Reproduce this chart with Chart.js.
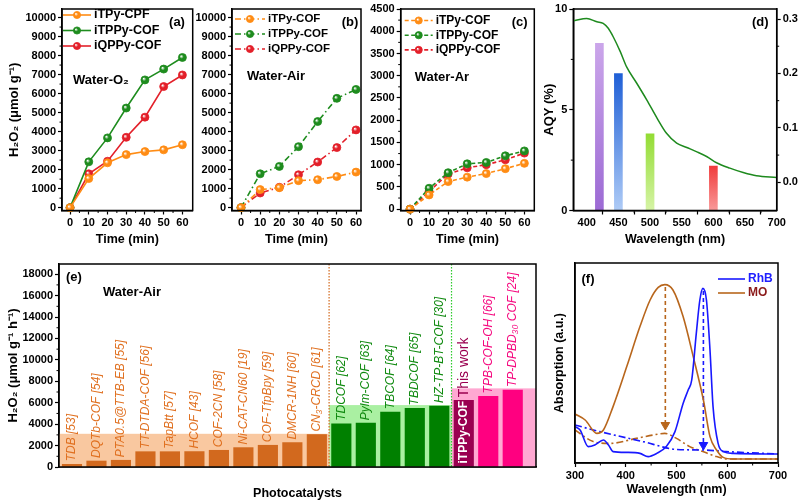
<!DOCTYPE html>
<html>
<head>
<meta charset="utf-8">
<script src="https://cdn.jsdelivr.net/npm/chart.js@4.4.1/dist/chart.umd.min.js"></script>
<style>
  html, body { margin: 0; padding: 0; background: #fff; }
  body { position: relative; width: 800px; height: 502px; overflow: hidden; }
  canvas { position: absolute; }
</style>
</head>
<body>
<canvas id="pa" width="198" height="250" style="left:0;top:0"></canvas>
<canvas id="pb" width="172" height="250" style="left:194px;top:0"></canvas>
<canvas id="pc" width="176" height="250" style="left:364px;top:0"></canvas>
<canvas id="pd" width="282" height="250" style="left:538px;top:0"></canvas>
<canvas id="pe" width="547" height="252" style="left:0;top:250px"></canvas>
<canvas id="pf" width="257" height="252" style="left:543px;top:250px"></canvas>
<script>
// ---- data: (a)-(c) H2O2 production vs time ----
var time = [0, 10, 20, 30, 40, 50, 60];
var legendA = ['iTPy-CPF', 'iTPPy-COF', 'iQPPy-COF'];
var legendBC = ['iTPy-COF', 'iTPPy-COF', 'iQPPy-COF'];
var o2_iTPy = [0, 1530, 2360, 2790, 2950, 3040, 3310];
var o2_iTPPy = [0, 2410, 3670, 5240, 6720, 7290, 7900];
var o2_iQPPy = [0, 1780, 2440, 3700, 4760, 6370, 6980];
var air_iTPy = [0, 950, 1050, 1420, 1470, 1640, 1870];
var air_iTPPy = [0, 1780, 2170, 3210, 4530, 5750, 6220];
var air_iQPPy = [0, 770, 1070, 1730, 2400, 3160, 4090];
var ar_iTPy = [0, 320, 620, 720, 800, 910, 1030];
var ar_iTPPy = [0, 470, 820, 1020, 1050, 1200, 1310];
var ar_iQPPy = [0, 400, 790, 930, 1000, 1110, 1260];
var timeTicks = [0, 10, 20, 30, 40, 50, 60];
var h2o2Ticks = [0, 1000, 2000, 3000, 4000, 5000, 6000, 7000, 8000, 9000, 10000];
var arTicks = [0, 500, 1000, 1500, 2000, 2500, 3000, 3500, 4000, 4500];

// ---- data: (d) AQY + absorption ----
var aqyWavelength = [420, 450, 500, 600];
var aqyValue = [8.3, 6.8, 3.8, 2.2];
var absWavelength = [380, 400, 416, 426, 434, 442, 453, 463, 479, 495, 511, 526, 542, 558, 574, 590, 605, 626, 647, 668, 700];
var absValue = [0.297, 0.301, 0.295, 0.292, 0.283, 0.267, 0.240, 0.212, 0.182, 0.151, 0.118, 0.090, 0.072, 0.064, 0.056, 0.047, 0.036, 0.026, 0.018, 0.012, 0.009];
var wlTicks = [400, 450, 500, 550, 600, 650, 700];
var aqyTicks = [0, 5, 10];
var absTicks = [0, 0.1, 0.2, 0.3];

// ---- data: (e) comparison ----
var catalysts = ['TDB [53]', 'DQTb-COF [54]', 'PTA0.5@TTB-EB [55]', 'TT-DTDA-COF [56]', 'TapBtt [57]', 'HCOF [43]',
  'COF-2CN [58]', 'Ni-CAT-CN60 [19]', 'COF-TfpBpy [59]', 'DMCR-1NH [60]', 'CN\u2083-CRCD [61]',
  'TDCOF [62]', 'Pylm-COF [63]', 'TBCOF [64]', 'TBDCOF [65]', 'HZ-TP-BT-COF [30]',
  'iTPPy-COF', 'TPB-COF-OH [66]', 'TP-DPBD\u2083\u2080 COF [24]'];
var rates = [250, 560, 630, 1430, 1430, 1440, 1560, 1810, 2030, 2280, 3030, 4030, 4090, 5120, 5470, 5690, 6220, 6590, 7190];
var groupOf = [0, 0, 0, 0, 0, 0, 0, 0, 0, 0, 0, 1, 1, 1, 1, 1, 2, 2, 2];
var groupTop = [3100, 5780, 7340];
var rateTicks = [0, 2000, 4000, 6000, 8000, 10000, 12000, 14000, 16000, 18000];

// ---- data: (f) dye absorption ----
var rhbWl = [300, 310, 326, 339, 356, 366, 375, 402, 428, 444, 461, 480, 497, 513, 523, 530, 539, 546, 552, 559, 566, 572, 582, 592, 612, 700];
var rhbAbs = [0.182, 0.165, 0.082, 0.090, 0.115, 0.090, 0.057, 0.053, 0.048, 0.032, 0.048, 0.082, 0.157, 0.298, 0.365, 0.415, 0.648, 0.815, 0.873, 0.815, 0.565, 0.282, 0.098, 0.057, 0.048, 0.045];
var moWl = [300, 320, 343, 356, 375, 402, 428, 448, 464, 477, 493, 513, 533, 553, 566, 579, 592, 612, 700];
var moAbs = [0.245, 0.215, 0.148, 0.165, 0.282, 0.482, 0.682, 0.815, 0.878, 0.892, 0.865, 0.732, 0.532, 0.315, 0.132, 0.065, 0.028, 0.020, 0.020];
var rhbAfterWl = [300, 349, 434, 500, 552, 598, 700];
var rhbAfterAbs = [0.190, 0.157, 0.107, 0.068, 0.065, 0.057, 0.045];
var moAfterWl = [300, 336, 369, 421, 454, 477, 500, 526, 552, 579, 598, 700];
var moAfterAbs = [0.165, 0.107, 0.098, 0.123, 0.140, 0.148, 0.123, 0.082, 0.057, 0.032, 0.020, 0.020];
var arrowWl = [478, 553];
var arrowFrom = [0.88, 0.86];
var arrowTo = [0.19, 0.09];
var fTicks = [300, 400, 500, 600, 700];

// ---------------------------------------------------------------
Chart.defaults.font.family = 'Arial, "Liberation Sans", sans-serif';
Chart.defaults.color = '#000';

var ORANGE = '#FF8C14', GREEN = '#1E8C1E', RED = '#E3202A';

function sphere(color) {
  return function (ctx) {
    var ch = ctx.chart;
    if (ctx.type !== 'data' || !ch.chartArea || !ctx.parsed) return color;
    var x = ch.scales.x.getPixelForValue(ctx.parsed.x), y = ch.scales.y.getPixelForValue(ctx.parsed.y);
    var g = ch.ctx.createRadialGradient(x - 1.3, y - 1.3, 0.2, x, y, 4.2);
    g.addColorStop(0, '#fff');
    g.addColorStop(0.45, color);
    g.addColorStop(1, color);
    return g;
  };
}

function ball(c, x, y, r, color) {
  var g = c.createRadialGradient(x - 1.2, y - 1.2, 0.2, x, y, r);
  g.addColorStop(0, '#fff'); g.addColorStop(0.45, color); g.addColorStop(1, color);
  c.beginPath(); c.arc(x, y, r, 0, Math.PI * 2);
  c.fillStyle = g; c.fill();
  c.lineWidth = 0.8; c.strokeStyle = color; c.stroke();
}

function series(label, xs, ys, color, dash) {
  return {
    label: label,
    data: xs.map(function (x, i) { return { x: x, y: ys[i] }; }),
    borderColor: color, borderWidth: 1.6, borderDash: dash,
    pointRadius: 4, pointHoverRadius: 4, pointBorderWidth: 0.8, pointBorderColor: color,
    pointBackgroundColor: sphere(color), tension: 0, clip: false
  };
}

function axis(o) {
  return {
    type: 'linear', position: o.position, min: o.min, max: o.max, offset: false,
    border: { display: true, color: '#000', width: 1.5 },
    grid: { display: !o.noTicks, drawOnChartArea: false, tickLength: 4, color: '#000', tickWidth: 1.2 },
    ticks: {
      display: !o.noTicks, font: { size: 11, weight: 'bold' }, color: '#000', padding: 2,
      maxRotation: 0, autoSkip: false,
      callback: o.fmt || function (v) { return String(v); }
    },
    afterBuildTicks: function (s) { s.ticks = (o.ticks || []).map(function (v) { return { value: v }; }); },
    afterFit: function (s) { if (o.horiz) s.height = o.size; else s.width = o.size; },
    title: {
      display: !!o.title, text: o.title || '', color: '#000',
      font: { size: o.tsize || 12.5, weight: 'bold' },
      padding: { top: o.tpad || 0, bottom: o.tpad || 0 }
    }
  };
}

// box round the plot area
var frame = {
  id: 'frame',
  afterDatasetsDraw: function (chart) {
    var a = chart.chartArea, c = chart.ctx;
    c.save(); c.strokeStyle = '#000'; c.lineWidth = 1.5;
    c.strokeRect(a.left, a.top, a.right - a.left, a.bottom - a.top);
    c.restore();
  }
};

// small ticks halfway between the labelled ones
var minor = {
  id: 'minor',
  afterDraw: function (chart, args, o) {
    var c = chart.ctx;
    (o.axes || []).forEach(function (id) {
      var s = chart.scales[id], t = s.ticks.map(function (k) { return k.value; });
      c.save(); c.strokeStyle = '#000'; c.lineWidth = 1;
      for (var i = 0; i < t.length - 1; i++) {
        var p = s.getPixelForValue((t[i] + t[i + 1]) / 2);
        c.beginPath();
        if (s.isHorizontal()) { c.moveTo(p, s.top); c.lineTo(p, s.top + 2.5); }
        else if (s.position === 'left') { c.moveTo(s.right, p); c.lineTo(s.right - 2.5, p); }
        else { c.moveTo(s.left, p); c.lineTo(s.left + 2.5, p); }
        c.stroke();
      }
      c.restore();
    });
  }
};

// panel letters and condition labels
var notes = {
  id: 'notes',
  afterDraw: function (chart, args, o) {
    var c = chart.ctx, a = chart.chartArea;
    (o.items || []).forEach(function (n) {
      c.save();
      c.font = n.font || 'bold 13px Arial';
      c.fillStyle = n.color || '#000';
      c.textBaseline = 'middle';
      c.textAlign = n.align || 'left';
      c.fillText(n.text, a.left + n.x, a.top + n.y);
      c.restore();
    });
  }
};

// legend: line sample (+ marker) then label
var keys = {
  id: 'keys',
  afterDraw: function (chart, args, o) {
    if (o.x === undefined) return;
    var c = chart.ctx, a = chart.chartArea, y = a.top + o.y, k = 0;
    chart.data.datasets.forEach(function (ds) {
      if (!ds.label) return;
      var x0 = a.left + o.x, x1 = x0 + o.len;
      c.save();
      c.strokeStyle = ds.borderColor; c.lineWidth = ds.borderWidth;
      c.setLineDash(ds.borderDash || []);
      c.beginPath(); c.moveTo(x0, y); c.lineTo(x1, y); c.stroke();
      c.setLineDash([]);
      if (o.marker) ball(c, (x0 + x1) / 2, y, 3.6, ds.borderColor);
      c.font = o.font; c.textBaseline = 'middle';
      c.fillStyle = o.colors ? o.colors[k] : '#000';
      c.fillText(ds.label, x1 + 3, y);
      c.restore();
      y += o.row; k++;
    });
  }
};

var base = { responsive: false, animation: false, events: [] };

function timeChart(id, names, sets, dash, yTicks, yMin, yMax, xMin, xMax, yW, padR, yTitle, items, key) {
  return new Chart(document.getElementById(id), {
    type: 'line',
    data: {
      datasets: [
        series(names[0], time, sets[0], ORANGE, dash),
        series(names[1], time, sets[1], GREEN, dash),
        series(names[2], time, sets[2], RED, dash)
      ]
    },
    options: Object.assign({}, base, {
      layout: { padding: { left: 0, right: padR, top: 9, bottom: 3 } },
      scales: {
        x: axis({ horiz: true, position: 'bottom', min: xMin, max: xMax, ticks: timeTicks, size: 36.5, title: 'Time (min)' }),
        y: axis({ position: 'left', min: yMin, max: yMax, ticks: yTicks, size: yW, title: yTitle, tsize: 13, tpad: 7 })
      },
      plugins: {
        legend: { display: false }, tooltip: { enabled: false },
        minor: { axes: ['x', 'y'] },
        notes: { items: items },
        keys: key
      }
    }),
    plugins: [frame, minor, notes, keys]
  });
}

timeChart('pa', legendA, [o2_iTPy, o2_iTPPy, o2_iQPPy], [], h2o2Ticks, -150, 10450, -4.3, 65.5, 62, 5.3,
  'H\u2082O\u2082 (\u03bcmol g\u207b\u00b9)',
  [{ text: '(a)', x: 115, y: 13, align: 'center' }, { text: 'Water-O\u2082', x: 11, y: 71 }],
  { x: 1, y: 6, len: 28, row: 15.5, font: 'bold 12.5px Arial', marker: true });

timeChart('pb', legendBC, [air_iTPy, air_iTPPy, air_iQPPy], [6, 3, 1.5, 3], h2o2Ticks, -150, 10450, -4.7, 62.6, 38, 5, '',
  [{ text: '(b)', x: 118, y: 13, align: 'center' }, { text: 'Water-Air', x: 15, y: 67 }],
  { x: 3, y: 10, len: 30, row: 15, font: 'bold 11.5px Arial', marker: true });

timeChart('pc', legendBC, [ar_iTPy, ar_iTPPy, ar_iQPPy], [4, 2.5], arTicks, -30, 4500, -4.9, 65.2, 36.7, 5.7, '',
  [{ text: '(c)', x: 119, y: 13, align: 'center' }, { text: 'Water-Ar', x: 14, y: 68 }],
  { x: 4, y: 11.5, len: 28, row: 14.7, font: 'bold 12px Arial', marker: true });

// ---- (d) ----
var aqyTop = ['#CBA6EA', '#1F5FD6', '#93DC34', '#F03C3C'];
var aqyBottom = ['#9C6AD4', '#AECBF6', '#D6F4A6', '#F99A9A'];
new Chart(document.getElementById('pd'), {
  type: 'bar',
  data: {
    datasets: [
      {
        type: 'line', yAxisID: 'y2',
        data: absWavelength.map(function (x, i) { return { x: x, y: absValue[i] }; }),
        borderColor: '#1E8A1E', borderWidth: 1.5, pointRadius: 0, cubicInterpolationMode: 'monotone'
      },
      {
        type: 'bar', yAxisID: 'y', barThickness: 8,
        data: aqyWavelength.map(function (x, i) { return { x: x, y: aqyValue[i] }; }),
        backgroundColor: function (ctx) {
          var ch = ctx.chart;
          if (ctx.type !== 'data' || !ch.chartArea || !ctx.parsed) return aqyTop[0];
          var ys = ch.scales.y;
          var g = ch.ctx.createLinearGradient(0, ys.getPixelForValue(ctx.parsed.y), 0, ys.getPixelForValue(0));
          g.addColorStop(0, aqyTop[ctx.dataIndex]); g.addColorStop(1, aqyBottom[ctx.dataIndex]);
          return g;
        }
      }
    ]
  },
  options: Object.assign({}, base, {
    layout: { padding: { left: 0, right: 0, top: 9, bottom: 3 } },
    scales: {
      x: axis({ horiz: true, position: 'bottom', min: 378.8, max: 700, ticks: wlTicks, size: 36.5, title: 'Wavelength (nm)' }),
      y: axis({ position: 'left', min: 0, max: 10, ticks: aqyTicks, size: 35.3, title: 'AQY (%)', tsize: 13, tpad: 4 }),
      y2: axis({ position: 'right', min: -0.0518, max: 0.3184, ticks: absTicks, size: 43.3, fmt: function (v) { return v.toFixed(1); } })
    },
    plugins: {
      legend: { display: false }, tooltip: { enabled: false },
      minor: { axes: ['x', 'y', 'y2'] },
      notes: { items: [{ text: '(d)', x: 187, y: 13, align: 'center' }] }
    }
  }),
  plugins: [frame, minor, notes]
});

// ---- (e) ----
var groupFill = ['#D2691E', '#008000', '#FF0080'];
var bandFill = ['#F9C8A0', '#AAF0A2', '#FFA8D2'];
var textFill = ['#E07020', '#108A10', '#F5087F'];
var sepColor = ['#D2691E', '#2ECC2E'];
var ownWork = '#9A0050';

var bands = {
  id: 'bands',
  beforeDatasetsDraw: function (chart) {
    var c = chart.ctx, xs = chart.scales.x, ys = chart.scales.y, a = chart.chartArea;
    for (var g = 0; g < groupTop.length; g++) {
      var idx = [];
      groupOf.forEach(function (v, i) { if (v === g) idx.push(i); });
      var from = g === 0 ? xs.min : idx[0] - 0.5;
      var to = g === groupTop.length - 1 ? xs.max : idx[idx.length - 1] + 0.5;
      var l = xs.getPixelForValue(from), r = xs.getPixelForValue(to), t = ys.getPixelForValue(groupTop[g]);
      c.save();
      c.fillStyle = bandFill[g];
      c.fillRect(l, t, r - l, a.bottom - t);
      if (g > 0) {
        c.strokeStyle = sepColor[g - 1]; c.lineWidth = 1.2; c.setLineDash([1.5, 1.5]);
        c.beginPath(); c.moveTo(l, a.top); c.lineTo(l, a.bottom); c.stroke();
      }
      c.restore();
    }
  }
};

var barText = {
  id: 'barText',
  afterDatasetsDraw: function (chart) {
    var c = chart.ctx, meta = chart.getDatasetMeta(0);
    meta.data.forEach(function (bar, i) {
      var name = catalysts[i];
      c.save();
      c.textBaseline = 'middle'; c.textAlign = 'left';
      if (name === 'iTPPy-COF') {
        c.save();
        c.translate(bar.x, bar.base - 3); c.rotate(-Math.PI / 2);
        c.font = 'bold 12px Arial'; c.fillStyle = '#fff';
        c.fillText(name, 0, 0);
        c.restore();
        c.translate(bar.x, bar.y - 3); c.rotate(-Math.PI / 2);
        c.font = '14px Arial'; c.fillStyle = ownWork;
        c.fillText('This work', 0, 0);
      } else {
        c.translate(bar.x, bar.y - 3); c.rotate(-Math.PI / 2);
        c.font = 'italic 12px Arial'; c.fillStyle = textFill[groupOf[i]];
        c.fillText(name, 0, 0);
      }
      c.restore();
    });
  }
};

new Chart(document.getElementById('pe'), {
  type: 'bar',
  data: {
    datasets: [{
      data: catalysts.map(function (n, i) { return { x: i, y: rates[i] }; }),
      backgroundColor: catalysts.map(function (n, i) { return n === 'iTPPy-COF' ? ownWork : groupFill[groupOf[i]]; }),
      barThickness: 19.5
    }]
  },
  options: Object.assign({}, base, {
    layout: { padding: { left: 0, right: 11, top: 14, bottom: 1 } },
    scales: {
      x: axis({ horiz: true, position: 'bottom', min: -0.53, max: 18.95, noTicks: true, size: 34, title: 'Photocatalysts' }),
      y: axis({ position: 'left', min: 0, max: 18950, ticks: rateTicks, size: 59, title: 'H\u2082O\u2082 (\u03bcmol g\u207b\u00b9 h\u207b\u00b9)', tsize: 13, tpad: 6 })
    },
    plugins: {
      legend: { display: false }, tooltip: { enabled: false },
      minor: { axes: ['y'] },
      notes: { items: [{ text: '(e)', x: 7, y: 13 }, { text: 'Water-Air', x: 44, y: 28 }] }
    }
  }),
  plugins: [bands, barText, frame, minor, notes]
});

// ---- (f) ----
var BLUE = '#1818FF', BROWN = '#B8661C';
function curve(label, xs, ys, color, dash) {
  return {
    label: label, data: xs.map(function (x, i) { return { x: x, y: ys[i] }; }),
    borderColor: color, borderWidth: 1.6, borderDash: dash, pointRadius: 0,
    cubicInterpolationMode: 'monotone'
  };
}
function arrow(i, color) {
  return {
    data: [{ x: arrowWl[i], y: arrowFrom[i] }, { x: arrowWl[i], y: arrowTo[i] }],
    borderColor: color, borderWidth: 1.6, borderDash: [4, 3],
    pointStyle: 'triangle', rotation: 180, pointRadius: [0, 5],
    pointBackgroundColor: color, pointBorderColor: color, pointBorderWidth: 1
  };
}
new Chart(document.getElementById('pf'), {
  type: 'line',
  data: {
    datasets: [
      curve('RhB', rhbWl, rhbAbs, BLUE, []),
      curve('MO', moWl, moAbs, BROWN, []),
      curve('', rhbAfterWl, rhbAfterAbs, BLUE, [7, 3, 2, 3]),
      curve('', moAfterWl, moAfterAbs, BROWN, [7, 3, 2, 3]),
      arrow(0, BROWN),
      arrow(1, BLUE)
    ]
  },
  options: Object.assign({}, base, {
    layout: { padding: { left: 0, right: 22, top: 13, bottom: 5 } },
    scales: {
      x: axis({ horiz: true, position: 'bottom', min: 300, max: 700, ticks: fTicks, size: 34, title: 'Wavelength (nm)' }),
      y: axis({ position: 'left', min: 0, max: 1, noTicks: true, size: 32, title: 'Absorption (a.u.)', tsize: 12.5, tpad: 9 })
    },
    plugins: {
      legend: { display: false }, tooltip: { enabled: false },
      minor: { axes: ['x'] },
      notes: { items: [{ text: '(f)', x: 13, y: 16, align: 'center' }] },
      keys: { x: 143, y: 16, len: 27, row: 14, font: 'bold 12px Arial', colors: ['#2020FF', '#8B1A1A'] }
    }
  }),
  plugins: [frame, minor, notes, keys]
});
</script>
</body>
</html>
